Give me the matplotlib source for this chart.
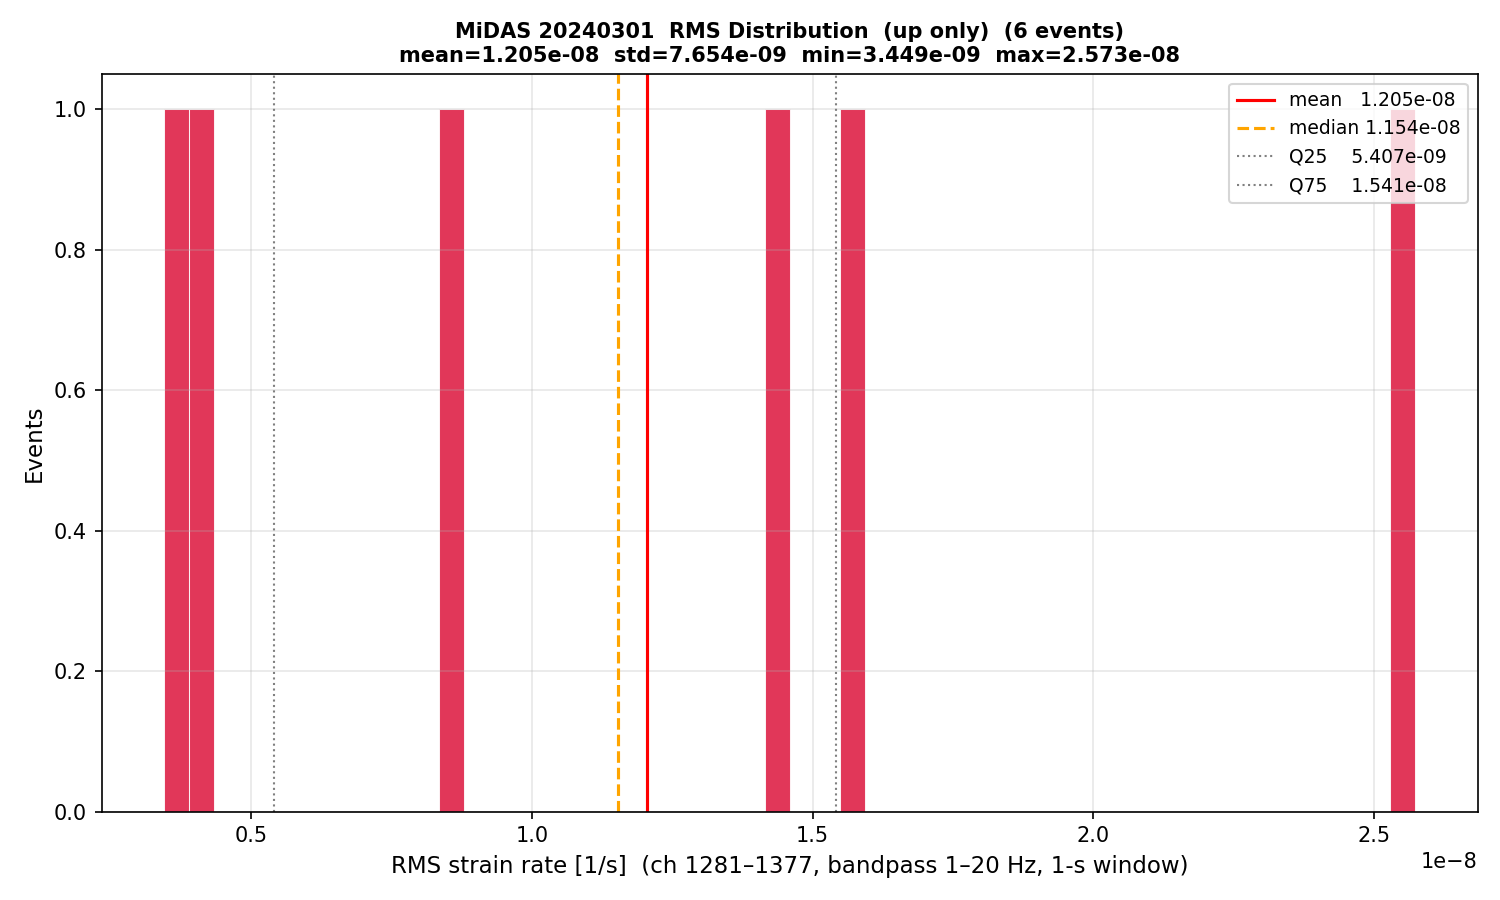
import numpy as np
import matplotlib
matplotlib.use("Agg")
import matplotlib.pyplot as plt

# RMS values of the 6 events [1/s]
rms_values = [3.449e-9, 4.303e-9, 8.72e-9, 1.436e-8, 1.576e-8, 2.573e-8]
n_bins = 50

stat_names = ["mean", "median", "Q25", "Q75"]
stat_values = [1.205e-8, 1.154e-8, 5.407e-9, 1.541e-8]
stat_colors = ["red", "orange", "gray", "gray"]
stat_styles = ["-", "--", ":", ":"]
stat_widths = [1.5, 1.5, 1.0, 1.0]

title = ("MiDAS 20240301  RMS Distribution  (up only)  (6 events)\n"
         "mean=1.205e-08  std=7.654e-09  min=3.449e-09  max=2.573e-08")

fig, ax = plt.subplots(figsize=(10, 6), dpi=150)
ax.hist(rms_values, bins=n_bins, color="crimson", alpha=0.85,
        edgecolor="white", linewidth=0.5)
for name, v, c, ls, lw in zip(stat_names, stat_values, stat_colors,
                              stat_styles, stat_widths):
    ax.axvline(v, color=c, linestyle=ls, linewidth=lw,
               label=f"{name:<6} {v:.3e}")
ax.set_xlabel("RMS strain rate [1/s]  (ch 1281\u20131377, bandpass 1\u201320 Hz, 1-s window)",
              fontsize=11)
ax.set_ylabel("Events", fontsize=11)
ax.set_title(title, fontsize=10, fontweight="bold")
ax.grid(alpha=0.3)
ax.legend(fontsize=9, loc="upper right")
fig.tight_layout()
fig.savefig("out.png", dpi=150)
